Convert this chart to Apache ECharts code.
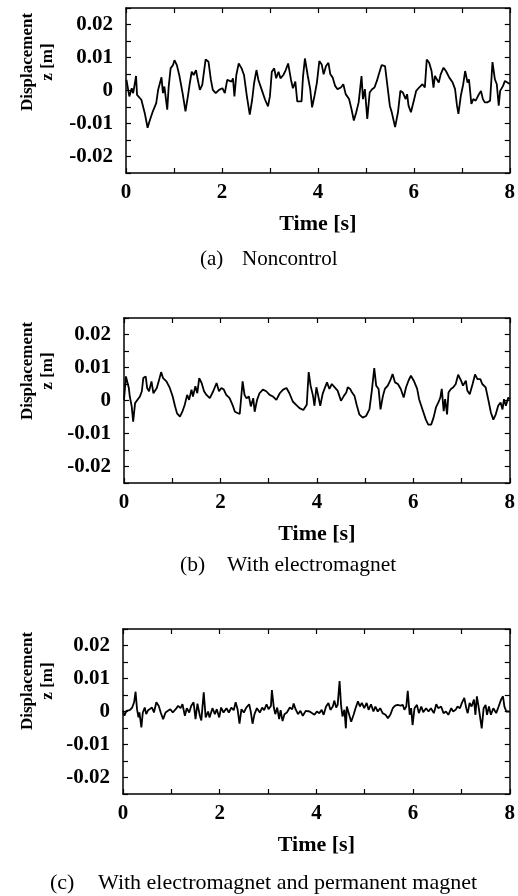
<!DOCTYPE html>
<html>
<head>
<meta charset="utf-8">
<script src="https://cdn.jsdelivr.net/npm/echarts@6/dist/echarts.min.js"></script>
<style>
html,body{margin:0;padding:0;background:#fff;}
#chart{width:518px;height:896px;}
</style>
</head>
<body>
<div id="chart"></div>
<script>
// ---- data ----
const timeA = [0.01,0.07,0.12,0.15,0.21,0.23,0.32,0.39,0.45,0.49,0.56,0.63,0.67,0.70,0.74,0.77,0.80,0.86,0.89,0.93,0.98,1.01,1.06,1.11,1.18,1.24,1.29,1.33,1.37,1.41,1.46,1.49,1.54,1.59,1.63,1.66,1.72,1.77,1.81,1.87,1.94,2.01,2.06,2.11,2.14,2.20,2.23,2.26,2.30,2.35,2.41,2.46,2.52,2.58,2.63,2.67,2.72,2.76,2.83,2.90,2.96,3.00,3.04,3.09,3.13,3.18,3.22,3.28,3.33,3.38,3.44,3.48,3.53,3.57,3.61,3.66,3.69,3.73,3.79,3.84,3.88,3.93,3.98,4.03,4.08,4.12,4.17,4.22,4.26,4.31,4.36,4.41,4.48,4.53,4.58,4.65,4.70,4.75,4.80,4.85,4.91,4.94,4.98,5.03,5.08,5.13,5.18,5.23,5.28,5.33,5.40,5.45,5.50,5.54,5.61,5.67,5.72,5.77,5.83,5.86,5.89,5.94,6.00,6.05,6.11,6.18,6.23,6.27,6.32,6.37,6.41,6.44,6.48,6.52,6.56,6.62,6.67,6.74,6.81,6.86,6.90,6.93,6.98,7.03,7.07,7.12,7.15,7.20,7.24,7.29,7.34,7.40,7.44,7.48,7.53,7.59,7.64,7.69,7.73,7.77,7.80,7.86,7.90,7.94,8.00];
const dispA = [0.0032,-0.0018,0.0007,-0.0008,0.0044,-0.0013,-0.0028,-0.0068,-0.0113,-0.0093,-0.0063,-0.0038,0.0002,0.0007,0.0040,-0.0008,0.0012,-0.0058,0.0012,0.0067,0.0077,0.0092,0.0077,0.0047,-0.0008,-0.0063,-0.0018,0.0022,0.0057,0.0047,0.0062,0.0037,0.0002,0.0017,0.0062,0.0094,0.0087,0.0032,0.0002,-0.0008,0.0002,0.0007,-0.0008,0.0032,0.0037,0.0027,0.0037,-0.0018,0.0047,0.0082,0.0067,0.0047,-0.0018,-0.0073,-0.0028,0.0022,0.0062,0.0032,0.0002,-0.0028,-0.0048,-0.0018,0.0057,0.0067,0.0037,0.0057,0.0037,0.0047,0.0062,0.0082,0.0032,0.0007,0.0027,-0.0033,-0.0038,-0.0033,0.0042,0.0097,0.0044,0.0004,-0.0051,-0.0016,0.0024,0.0089,0.0079,0.0049,0.0074,0.0084,0.0049,0.0039,0.0014,0.0004,0.0009,0.0019,-0.0011,-0.0026,-0.0056,-0.0091,-0.0066,-0.0036,0.0044,-0.0026,0.0004,-0.0086,-0.0006,0.0004,0.0009,0.0029,0.0054,0.0077,0.0074,0.0014,-0.0046,-0.0066,-0.0111,-0.0066,-0.0001,-0.0006,-0.0026,-0.0011,-0.0046,-0.0066,-0.0031,-0.0001,0.0009,0.0019,0.0009,0.0094,0.0084,0.0059,0.0009,0.0044,0.0034,0.0024,0.0049,0.0069,0.0059,0.0039,0.0024,0.0004,-0.0046,-0.0071,-0.0016,0.0019,0.0059,0.0024,0.0034,-0.0041,-0.0026,-0.0031,-0.0016,-0.0001,-0.0026,-0.0036,-0.0036,-0.0031,0.0086,0.0034,0.0019,-0.0046,-0.0001,0.0014,0.0029,0.0034,0.0020];

const timeB = [0.00,0.04,0.07,0.10,0.12,0.16,0.19,0.23,0.28,0.33,0.37,0.40,0.45,0.48,0.52,0.57,0.61,0.68,0.72,0.77,0.81,0.88,0.95,1.01,1.06,1.10,1.16,1.21,1.26,1.31,1.35,1.40,1.43,1.48,1.52,1.56,1.61,1.66,1.71,1.78,1.85,1.92,1.97,2.02,2.07,2.12,2.19,2.25,2.30,2.34,2.40,2.46,2.50,2.54,2.59,2.63,2.68,2.71,2.76,2.81,2.88,2.95,3.02,3.09,3.16,3.23,3.30,3.37,3.43,3.50,3.57,3.64,3.72,3.79,3.83,3.87,3.92,3.95,3.99,4.02,4.07,4.12,4.17,4.21,4.26,4.31,4.37,4.43,4.50,4.56,4.61,4.64,4.69,4.73,4.78,4.83,4.88,4.95,5.02,5.09,5.14,5.19,5.23,5.28,5.32,5.37,5.41,5.47,5.52,5.57,5.62,5.68,5.74,5.80,5.85,5.90,5.95,6.01,6.08,6.12,6.19,6.26,6.31,6.37,6.42,6.47,6.52,6.56,6.59,6.63,6.66,6.70,6.73,6.78,6.83,6.88,6.93,6.99,7.03,7.09,7.12,7.17,7.23,7.28,7.33,7.39,7.43,7.50,7.56,7.61,7.66,7.71,7.76,7.81,7.85,7.88,7.92,7.97,8.00];
const dispB = [0.0002,0.0073,0.0078,0.0038,0.0012,-0.0018,-0.0064,-0.0008,0.0002,0.0012,0.0028,0.0068,0.0073,0.0038,0.0028,0.0058,0.0022,0.0038,0.0058,0.0086,0.0068,0.0058,0.0038,0.0012,-0.0018,-0.0039,-0.0049,-0.0034,-0.0013,0.0017,0.0002,0.0033,0.0012,0.0043,0.0022,0.0068,0.0053,0.0028,0.0017,0.0007,0.0028,0.0053,0.0028,0.0038,0.0033,0.0017,0.0007,-0.0013,-0.0034,-0.0029,-0.0041,0.0058,0.0017,0.0007,0.0012,-0.0018,0.0007,-0.0034,0.0002,0.0022,0.0033,0.0028,0.0017,0.0012,0.0002,0.0022,0.0033,0.0038,0.0022,-0.0003,-0.0013,-0.0023,-0.0029,-0.0013,0.0086,0.0045,0.0014,-0.0016,0.0040,0.0020,-0.0016,0.0020,0.0040,0.0055,0.0035,0.0050,0.0040,0.0030,-0.0001,0.0014,0.0024,0.0040,0.0035,0.0024,0.0014,-0.0016,-0.0042,-0.0052,-0.0047,-0.0027,0.0030,0.0098,0.0045,0.0035,-0.0027,0.0014,0.0035,0.0045,0.0060,0.0080,0.0055,0.0050,0.0035,0.0009,0.0040,0.0060,0.0075,0.0060,0.0035,0.0004,-0.0027,-0.0058,-0.0073,-0.0073,-0.0052,-0.0021,-0.0006,0.0009,0.0035,-0.0032,0.0004,-0.0042,0.0024,0.0035,0.0040,0.0050,0.0078,0.0060,0.0045,0.0060,0.0030,0.0019,0.0050,0.0079,0.0065,0.0065,0.0050,0.0040,-0.0001,-0.0037,-0.0058,-0.0042,-0.0016,-0.0006,-0.0027,0.0004,-0.0016,0.0009,0.0004];

const timeC = [0.00,0.03,0.07,0.14,0.19,0.23,0.26,0.29,0.32,0.34,0.38,0.41,0.45,0.48,0.52,0.55,0.60,0.64,0.69,0.74,0.78,0.83,0.88,0.93,0.98,1.03,1.09,1.14,1.19,1.23,1.28,1.32,1.37,1.41,1.46,1.50,1.54,1.59,1.62,1.67,1.71,1.76,1.79,1.85,1.90,1.94,1.99,2.03,2.08,2.14,2.19,2.24,2.29,2.33,2.37,2.41,2.45,2.50,2.55,2.61,2.64,2.68,2.72,2.77,2.83,2.88,2.92,2.97,3.01,3.06,3.08,3.12,3.15,3.19,3.23,3.26,3.30,3.34,3.39,3.45,3.50,3.53,3.57,3.62,3.67,3.72,3.78,3.86,3.90,3.96,4.01,4.06,4.11,4.15,4.20,4.25,4.29,4.34,4.37,4.41,4.44,4.48,4.51,4.54,4.58,4.61,4.63,4.67,4.72,4.77,4.81,4.86,4.90,4.94,4.99,5.04,5.08,5.13,5.18,5.22,5.27,5.32,5.37,5.43,5.48,5.53,5.58,5.63,5.68,5.74,5.79,5.82,5.86,5.89,5.93,5.96,5.99,6.03,6.08,6.12,6.17,6.21,6.27,6.32,6.37,6.43,6.48,6.52,6.58,6.63,6.68,6.73,6.79,6.83,6.88,6.92,6.97,7.01,7.06,7.10,7.13,7.17,7.21,7.26,7.29,7.32,7.36,7.39,7.42,7.46,7.50,7.53,7.57,7.61,7.66,7.72,7.77,7.82,7.86,7.89,7.93,7.97,8.00];
const dispC = [0.0002,-0.0013,0.0002,0.0004,0.0012,0.0028,0.0060,0.0007,-0.0018,-0.0003,-0.0048,-0.0003,0.0012,-0.0008,0.0004,0.0002,0.0012,-0.0003,0.0028,0.0017,-0.0003,-0.0023,-0.0003,0.0002,0.0007,-0.0003,0.0007,0.0017,0.0010,0.0022,-0.0013,0.0010,-0.0003,0.0017,0.0028,-0.0023,0.0024,-0.0013,-0.0027,0.0058,-0.0018,0.0000,-0.0018,0.0010,-0.0008,0.0007,-0.0018,0.0012,-0.0003,0.0010,-0.0003,0.0012,0.0004,0.0028,0.0007,-0.0037,0.0007,-0.0003,0.0012,0.0022,0.0002,-0.0037,-0.0008,0.0010,-0.0003,0.0012,0.0004,0.0022,0.0007,0.0017,0.0065,0.0012,-0.0008,0.0012,-0.0023,0.0004,-0.0029,-0.0008,-0.0003,0.0012,0.0007,0.0024,0.0007,-0.0008,0.0002,-0.0013,0.0002,0.0000,0.0005,-0.0010,0.0000,-0.0005,0.0005,-0.0010,0.0015,0.0026,0.0005,0.0015,0.0033,0.0012,0.0020,0.0092,0.0020,-0.0015,0.0005,-0.0051,0.0015,-0.0005,-0.0031,-0.0010,0.0010,0.0031,0.0015,0.0026,0.0010,0.0026,0.0005,0.0022,0.0000,0.0015,0.0000,0.0010,-0.0005,-0.0010,-0.0020,-0.0010,0.0010,0.0018,0.0020,0.0018,0.0020,0.0005,0.0015,0.0063,-0.0010,0.0010,-0.0041,0.0010,0.0020,-0.0005,0.0015,-0.0002,0.0010,0.0000,0.0010,-0.0005,0.0022,0.0010,0.0015,-0.0005,0.0000,-0.0010,0.0010,0.0000,0.0005,0.0015,0.0010,0.0026,0.0041,0.0010,-0.0005,0.0026,0.0015,0.0036,-0.0010,0.0046,0.0010,-0.0020,-0.0051,0.0010,0.0020,-0.0010,0.0015,-0.0010,0.0010,-0.0005,0.0015,0.0036,0.0046,0.0015,0.0000,0.0005,0.0000];

const xTickLabels = ['0','2','4','6','8'];
const yTickLabels = ['-0.02','-0.01','0','0.01','0.02'];
const yAxisTitle = 'Displacement\nz [m]';
const xAxisTitle = 'Time [s]';
const captionTags = ['(a)','(b)','(c)'];
const captionTexts = ['Noncontrol','With electromagnet','With electromagnet and permanent magnet'];

// ---- layout / style ----
const SERIF = '"Liberation Serif","Times New Roman",serif';
const grids = [
  {left:126, top:8,   width:387, height:165},
  {left:124, top:318, width:388, height:165},
  {left:123, top:629, width:387, height:165}
];
const yTitleCenter = [{x:38, y:62}, {x:38, y:371}, {x:38, y:681}];
const captionPos = [
  {tagX:200, textX:242, y:259, size:21},
  {tagX:180, textX:227, y:565, size:21.5},
  {tagX:50,  textX:98,  y:883, size:22}
];
const series = [[timeA,dispA],[timeB,dispB],[timeC,dispC]];

const axisLine = {show:true, onZero:false, lineStyle:{color:'#000', width:1.5}};
const tick = {inside:true, length:5, lineStyle:{color:'#000', width:1.2}};
const xAxes = [], yAxes = [], ser = [], graphics = [];
grids.forEach((g, i) => {
  xAxes.push({
    gridIndex:i, type:'value', min:0, max:8, interval:1, position:'bottom',
    axisLine, axisTick:tick, splitLine:{show:false},
    axisLabel:{margin:9, color:'#000', fontFamily:SERIF, fontWeight:'bold', fontSize:21,
      formatter: v => xTickLabels.includes(String(v)) ? String(v) : ''},
    name:xAxisTitle, nameLocation:'middle', nameGap:40,
    nameTextStyle:{color:'#000', fontFamily:SERIF, fontWeight:'bold', fontSize:22}
  });
  xAxes.push({
    gridIndex:i, type:'value', min:0, max:8, interval:1, position:'top',
    axisLine, axisTick:tick, axisLabel:{show:false}, splitLine:{show:false}
  });
  yAxes.push({
    gridIndex:i, type:'value', min:-0.025, max:0.025, interval:0.005, position:'left',
    axisLine, axisTick:tick, splitLine:{show:false},
    axisLabel:{margin:13, color:'#000', fontFamily:SERIF, fontWeight:'bold', fontSize:21,
      formatter: v => {
        const k = Math.round(v*1000);
        if (k % 10 !== 0) return '';
        const s = k === 0 ? '0' : String(k/1000);
        return yTickLabels.includes(s) ? s : '';
      }}
  });
  yAxes.push({
    gridIndex:i, type:'value', min:-0.025, max:0.025, interval:0.005, position:'right',
    axisLine, axisTick:tick, axisLabel:{show:false}, splitLine:{show:false}
  });
  const [t, d] = series[i];
  ser.push({
    type:'line', xAxisIndex:2*i, yAxisIndex:2*i, showSymbol:false, silent:true,
    data: t.map((tt, j) => [tt, d[j]]),
    lineStyle:{color:'#000', width:1.8}, animation:false
  });
  const yc = yTitleCenter[i];
  graphics.push({type:'text', x:yc.x, y:yc.y, rotation:Math.PI/2, silent:true,
    style:{text:yAxisTitle, font:'bold 17px '+SERIF, fill:'#000', lineHeight:20,
      align:'center', verticalAlign:'middle', textAlign:'center', textVerticalAlign:'middle'}});
  const c = captionPos[i];
  graphics.push({type:'text', x:c.tagX, y:c.y, silent:true,
    style:{text:captionTags[i], font:c.size+'px '+SERIF, fill:'#000',
      align:'left', verticalAlign:'middle', textAlign:'left', textVerticalAlign:'middle'}});
  graphics.push({type:'text', x:c.textX, y:c.y, silent:true,
    style:{text:captionTexts[i], font:c.size+'px '+SERIF, fill:'#000',
      align:'left', verticalAlign:'middle', textAlign:'left', textVerticalAlign:'middle'}});
});

const chart = echarts.init(document.getElementById('chart'), null, {renderer:'canvas'});
chart.setOption({
  animation:false,
  backgroundColor:'#fff',
  grid: grids,
  xAxis: xAxes,
  yAxis: yAxes,
  series: ser,
  graphic: graphics
});
</script>
</body>
</html>
